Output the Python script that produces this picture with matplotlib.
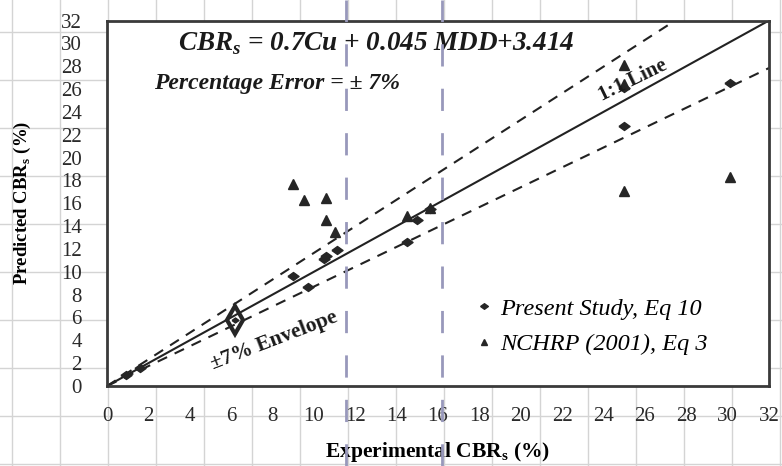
import numpy as np
import matplotlib
matplotlib.use("Agg")
import matplotlib.pyplot as plt
from matplotlib.lines import Line2D

plt.rcParams['font.family'] = ['Liberation Serif', 'DejaVu Serif']

# Present Study, Eq 10 (experimental, predicted)
present_x = [0.9, 1.6, 9.0, 9.7, 10.5, 10.6, 11.1, 14.5, 15.0, 15.6, 25.0, 25.0, 30.1]
present_y = [1.0, 1.6, 9.6, 8.7, 11.1, 11.4, 11.9, 12.6, 14.5, 15.5, 22.8, 26.1, 26.5]
# overlapping cluster near 6 % (drawn as open diamond)
cluster_x = [6.2]
cluster_y = [5.8]

# NCHRP (2001), Eq 3
nchrp_x = [9.0, 9.5, 10.6, 10.6, 11.0, 14.5, 15.6, 25.0, 25.0, 25.0, 30.1]
nchrp_y = [17.7, 16.3, 16.5, 14.5, 13.5, 14.9, 15.6, 28.1, 26.4, 17.1, 18.3]

line_x = np.array([0.0, 32.0])
upper_factor, lower_factor = 1.165, 0.87

ticks = np.arange(0, 33, 2)
W, H = 782, 466
mcol = '#262626'
flat_diamond = [(-1, 0), (0, 0.72), (1, 0), (0, -0.72), (-1, 0)]

fig = plt.figure(figsize=(W / 100, H / 100), dpi=100)
fig.patch.set_facecolor('white')

# excel sheet cells behind the chart
bg = fig.add_axes([0, 0, 1, 1], zorder=-5)
bg.set_xlim(0, W); bg.set_ylim(H, 0)
bg.set_xticks(np.arange(12, W, 48)); bg.set_yticks(np.arange(32, H, 48))
bg.grid(True, color='#d4d4d4', lw=1.0)
bg.tick_params(length=0, labelbottom=False, labelleft=False)
for s in bg.spines.values():
    s.set_visible(False)

# plot area in pixels: left 107, right 769, top 20.5, bottom 386
ax = fig.add_axes([107 / W, (H - 386) / H, (769 - 107) / W, (386 - 20.5) / H])
ax.set_facecolor('white')
ax.set_xlim(0, 32); ax.set_ylim(0, 32)
ax.set_xticks(ticks); ax.set_yticks(ticks)
ax.tick_params(length=0, labelsize=15, colors='#2a2a2a')
ax.tick_params(axis='y', pad=18)
ax.tick_params(axis='x', pad=15)
for s in ax.spines.values():
    s.set_color('#3a3a3a'); s.set_linewidth(2.0)

ax.plot(line_x, line_x, '-', color='#222222', lw=1.5)
ax.plot(line_x, line_x * upper_factor, color='#222222', lw=1.5, ls=(0, (5, 4)))
ax.plot(line_x, line_x * lower_factor, color='#222222', lw=1.5, ls=(0, (5, 4)))

ax.plot(present_x, present_y, marker=flat_diamond, color=mcol, ms=8, ls='none',
        label='Present Study, Eq 10')
ax.plot(cluster_x, cluster_y, 'd', mfc='none', mec=mcol, mew=3, ms=14, ls='none')
ax.plot(cluster_x, cluster_y, marker=flat_diamond, color=mcol, ms=5, ls='none')
ax.plot(nchrp_x, nchrp_y, '^', color=mcol, ms=7, ls='none', label='NCHRP (2001), Eq 3')

ax.text(13.0, 30.0, 'CBR$_\\mathregular{s}$ = 0.7Cu + 0.045 MDD+3.414', fontsize=19.5,
        fontweight='bold', fontstyle='italic', ha='center', va='center', color='#1a1a1a')
ax.text(8.2, 26.5, 'Percentage Error = \u00b1 7%', fontsize=17,
        fontweight='bold', fontstyle='italic', ha='center', va='center', color='#1a1a1a')
ax.text(25.4, 26.8, '1:1 Line', fontsize=15, fontweight='bold', rotation=26,
        ha='center', va='center', rotation_mode='anchor', color='#1a1a1a')
ax.text(8.1, 4.0, '\u00b17% Envelope', fontsize=15.5, fontweight='bold', rotation=21,
        ha='center', va='center', rotation_mode='anchor', color='#1a1a1a')

leg = ax.legend(loc='center left', bbox_to_anchor=((478 - 107) / 662, 0.163),
                frameon=False, handlelength=0.5, handletextpad=0.4, labelspacing=0.55,
                borderpad=0, borderaxespad=0, markerscale=0.7,
                prop={'family': 'Liberation Serif', 'style': 'italic', 'size': 17.5})

ax.set_xlabel('Experimental CBR$_\\mathregular{s}$ (%)', fontsize=15.5, fontweight='bold',
              labelpad=10)
ax.set_ylabel('Predicted CBR$_\\mathregular{s}$ (%)', fontsize=13.5, fontweight='bold',
              labelpad=20)

# page-break dashes from the spreadsheet view
for px in [346, 442]:
    fig.add_artist(Line2D([px / W, px / W], [0, 1], transform=fig.transFigure,
                          color='#9898bb', lw=2, ls=(0, (8, 8)), zorder=10))

fig.savefig('out.png', dpi=100)
